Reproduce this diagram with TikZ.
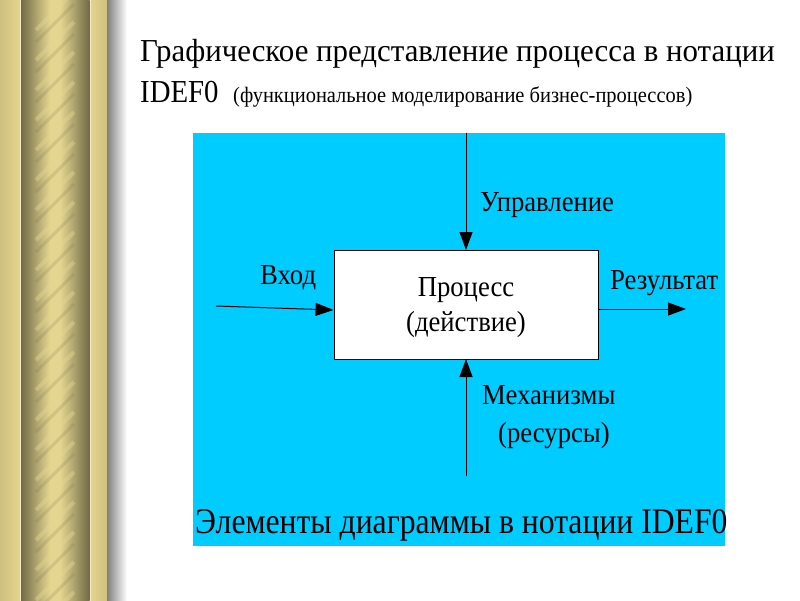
\documentclass[tikz,border=0pt]{standalone}
\usepackage{fontspec}
\setmainfont{Liberation Serif}
\newfontfamily\condA[FakeStretch=0.92]{Liberation Serif}
\newfontfamily\condB[FakeStretch=0.88]{Liberation Serif}
\newfontfamily\condC[FakeStretch=0.93]{Liberation Serif}
\newfontfamily\titlef[FakeStretch=0.965]{Liberation Serif}
\newfontfamily\idef[FakeStretch=0.9]{Liberation Serif}
\usetikzlibrary{arrows.meta}
\definecolor{cyanbg}{RGB}{0,204,255}
\definecolor{goldlight}{RGB}{228,214,144}
\definecolor{goldmid}{RGB}{206,192,126}
\definecolor{golddark}{RGB}{112,106,70}
\tikzset{
  lbl/.style={font=\condA\fontsize{29}{35}\selectfont, inner sep=0pt},
  flow/.style={line width=1pt, -{Triangle[length=18pt,width=13pt]}},
  procbox/.style={draw=black, line width=1pt, fill=white, minimum width=264pt, minimum height=109pt, inner sep=0pt}
}
\begin{document}
\begin{tikzpicture}[x=1pt,y=-1pt]
\useasboundingbox (0,0) rectangle (800,600);
\fill[white] (0,-2) rectangle (800,602);
% left decoration
\fill[goldlight] (0,-2) rectangle (107,602);
\shade[left color=goldmid, right color=goldlight] (0,-2) rectangle (20,602);
\shade[left color=goldlight, right color=goldmid] (90,-2) rectangle (107,602);
\shade[left color=golddark, right color=goldlight] (20.5,-2) rectangle (50,602);
\fill[goldlight] (50,-2) rectangle (60,602);
\shade[left color=goldlight, right color=golddark] (60,-2) rectangle (89.5,602);
\begin{scope}
\clip (32,-2) rectangle (78,602);
\foreach \k in {0,...,20}{
  \draw[goldlight, line width=4pt, opacity=0.45] (36,{\k*30+30}) -- (74,{\k*30-8});
  \draw[golddark, line width=3pt, opacity=0.18] (36,{\k*30+42}) -- (74,{\k*30+4});
}
\end{scope}
\draw[goldlight!50!white, line width=0.8pt] (20,-2) -- (20,602);
\draw[goldlight!50!white, line width=0.8pt] (90,-2) -- (90,602);
\shade[left color=black!50, right color=white] (107,-2) rectangle (127,602);
% title
\node[anchor=base west, inner sep=0pt, font=\titlef\fontsize{32}{36}\selectfont] (t1) at (140,61) {Графическое представление процесса в нотации};
\node[anchor=base west, inner sep=0pt, font=\idef\fontsize{32}{36}\selectfont] (t2) at (140,102) {IDEF0};
\node[anchor=base west, inner sep=0pt, font=\condC\fontsize{22}{26}\selectfont] (t3) at (233,102) {(функциональное моделирование бизнес-процессов)};
% blue panel
\fill[cyanbg] (193,133) rectangle (725,546);
\node[procbox] (proc) at (466,304.5) {};
\node[lbl, anchor=base] (ptext1) at (466,296) {Процесс};
\node[lbl, anchor=base] (ptext2) at (466,331) {(действие)};
\coordinate (ctop) at (466,133);
\coordinate (inl) at (216,306);
\coordinate (outr) at (686,309);
\coordinate (mbot) at (466,476);
\draw[flow] (ctop) -- (466,250);
\draw[flow] (inl) -- (proc.west |- 0,310);
\draw[flow] (proc.east |- 0,309) -- (outr);
\draw[flow] (mbot) -- (466,359);
\node[lbl, anchor=base west] (ctl) at (480,211) {Управление};
\node[lbl, anchor=base west] (inp) at (260,284) {Вход};
\node[lbl, anchor=base west] (res) at (610,289) {Результат};
\node[lbl, anchor=base west] (mech) at (482,404) {Механизмы};
\node[lbl, anchor=base west] (res2) at (498,442) {(ресурсы)};
\node[anchor=base west, inner sep=0pt, font=\condB\fontsize{36}{40}\selectfont] (bot) at (195,533) {Элементы диаграммы в нотации IDEF0};
\end{tikzpicture}
\end{document}
